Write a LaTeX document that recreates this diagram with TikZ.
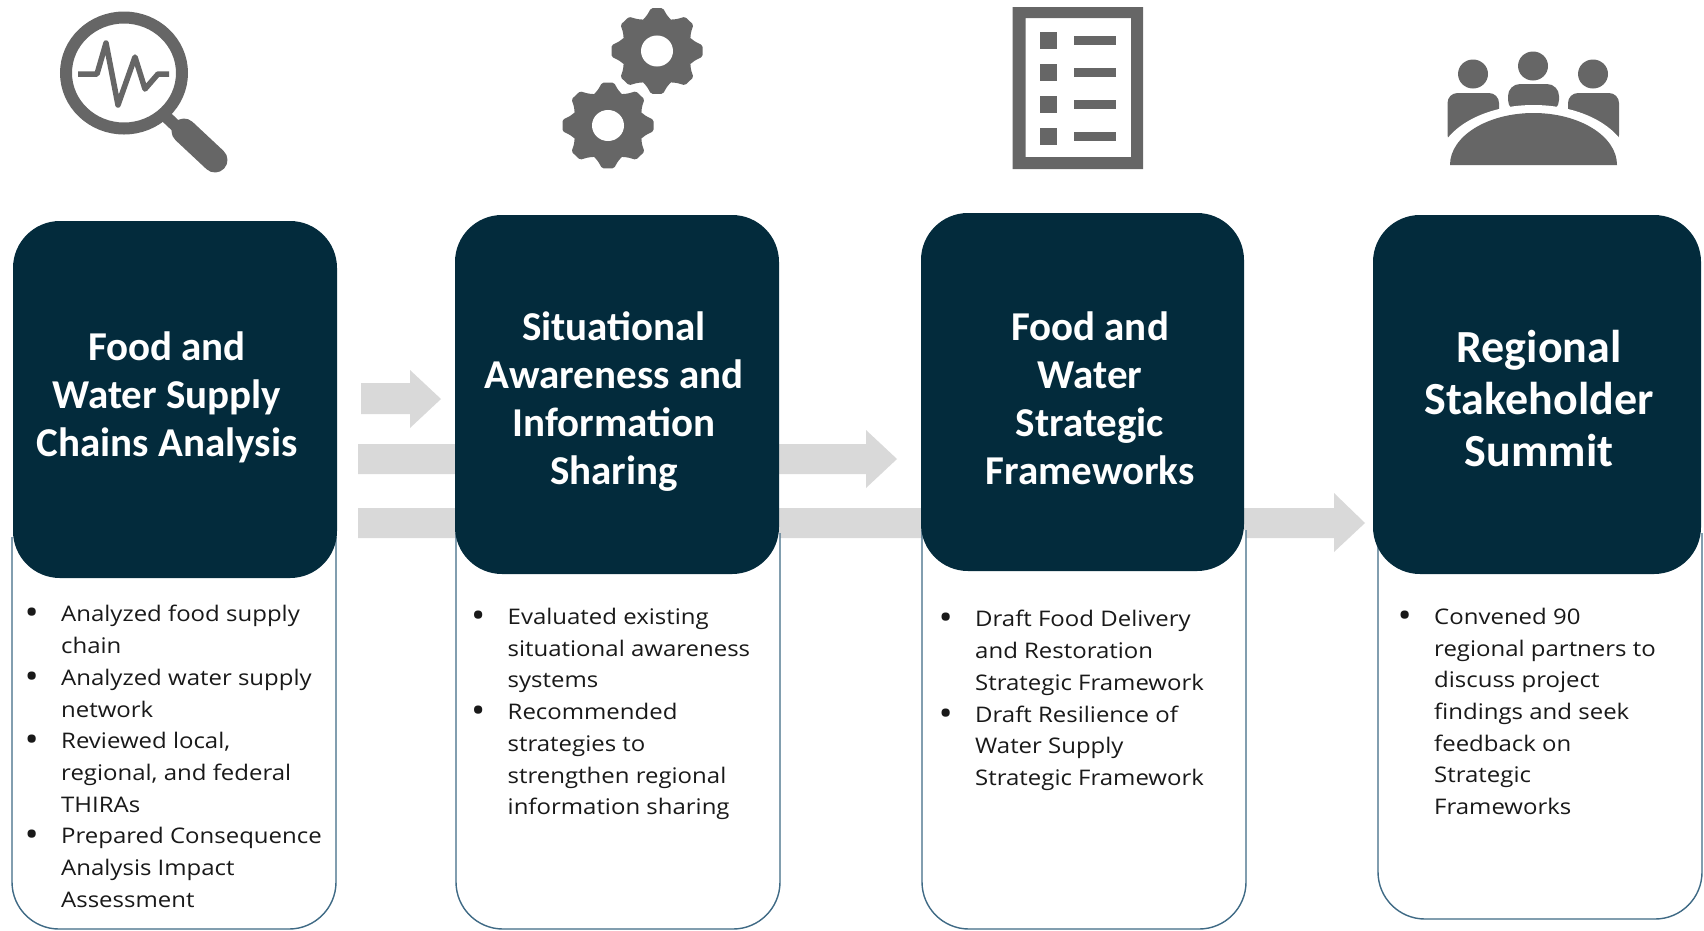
\documentclass[tikz,border=0pt]{standalone}
\usepackage{fontspec}
\setmainfont{Open Sans}[FakeStretch=1.115]
\newfontfamily\headfont{Carlito}[BoldFont=Carlito Bold]
\definecolor{dark}{HTML}{032B3C}
\definecolor{icon}{HTML}{666666}
\definecolor{arrowgray}{HTML}{D9D9D9}
\definecolor{edge}{HTML}{3F6A85}
\newcommand\bul{\llap{\makebox[0pt]{\raisebox{-3pt}{\fontsize{34}{34}\selectfont\textbullet}}\hspace{29.5pt}}}
\newcommand\gearicon[2]{%
  \begin{scope}[shift={(#1,#2)},yscale=0.94]
    \fill[icon] (0,0) circle[radius=35];
    \foreach \a in {0,45,...,315}{
      \fill[icon,rotate=\a,rounded corners=1.5pt] (32,-15) -- (38,-10) -- (45.5,-6) -- (45.5,6) -- (38,10) -- (32,15) -- cycle;
    }
    \fill[white] (0,0) ellipse[x radius=16,y radius=16.5];
  \end{scope}}
\tikzset{
  x=1pt,y=-1pt,
  darkbox/.style={fill=dark,draw=none,rounded corners=47pt,inner sep=0,minimum width=#1},
  outline/.style={fill=white,draw=edge,line width=1.4pt},
  heading/.style={font=\headfont\bfseries\fontsize{41}{48}\selectfont,text=white,align=center,inner sep=0},
  bigheading/.style={font=\headfont\bfseries\fontsize{46}{52}\selectfont,text=white,align=center,inner sep=0},
  bodytext/.style={font=\fontsize{21.5}{31.7}\selectfont,text=black!90,align=left,anchor=west,inner sep=0},
  flow/.style={fill=arrowgray,draw=none},
}
\begin{document}
\begin{tikzpicture}
\useasboundingbox (0,0) rectangle (1704,930);
% people
\fill[icon] (1473,74) ellipse[x radius=15,y radius=14.5];
\fill[icon] (1533,66) ellipse[x radius=15,y radius=14.5];
\fill[icon] (1593,74) ellipse[x radius=15,y radius=14.5];
\fill[icon,rounded corners=12pt] (1508,112) -- (1508,84) -- (1559,84) -- (1559,112) -- cycle;
\fill[icon,rounded corners=10pt] (1447.5,145) -- (1447.5,93) -- (1499,93) -- (1499,122) -- cycle;
\fill[icon,rounded corners=10pt] (1619,145) -- (1619,93) -- (1568,93) -- (1568,122) -- cycle;
\fill[white] (1533.5,165) ellipse[x radius=96,y radius=60];
\fill[icon] (1450,165) arc[start angle=180,end angle=0,x radius=83.5,y radius=-52] -- cycle;
% flow arrows
\fill[flow] (361,383) -- (410,383) -- (410,370) -- (441,399) -- (410,428) -- (410,414) -- (361,414) -- cycle;
\fill[flow] (358,444) -- (866,444) -- (866,430) -- (897,459) -- (866,488) -- (866,474) -- (358,474) -- cycle;
\fill[flow] (358,508) -- (1334,508) -- (1334,493) -- (1365,523) -- (1334,552) -- (1334,538) -- (358,538) -- cycle;
% lower outlined panels
\draw[outline] (12,537) -- (12,882) arc[start angle=180,end angle=90,radius=47] -- (289,929) arc[start angle=90,end angle=0,radius=47] -- (336,537);
\draw[outline] (456,533) -- (456,882) arc[start angle=180,end angle=90,radius=47] -- (733,929) arc[start angle=90,end angle=0,radius=47] -- (780,533);
\draw[outline] (922,530) -- (922,882) arc[start angle=180,end angle=90,radius=47] -- (1199,929) arc[start angle=90,end angle=0,radius=47] -- (1246,530);
\draw[outline] (1378,533) -- (1378,872) arc[start angle=180,end angle=90,radius=47] -- (1655,919) arc[start angle=90,end angle=0,radius=47] -- (1702,533);
% dark boxes
\node[darkbox=324pt,minimum height=357pt] (box1) at (175,399.5) {};
\node[darkbox=324pt,minimum height=359pt] (box2) at (617,394.5) {};
\node[darkbox=323pt,minimum height=358pt] (box3) at (1082.5,392) {};
\node[darkbox=328pt,minimum height=359pt] (box4) at (1537,394.5) {};
% headings
\node[heading] (h1) at (167,397) {Food and\\Water Supply\\Chains Analysis};
\node[heading] (h2) at (614,401.5) {Situational\\Awareness and\\Information\\Sharing};
\node[heading] (h3) at (1090,398) {Food and\\Water\\Strategic\\Frameworks};
\node[bigheading] (h4) at (1539,399) {Regional\\Stakeholder\\Summit};
% body text
\node[bodytext] (t1) at (61,756.5) {\bul Analyzed food supply\\chain\\\bul Analyzed water supply\\network\\\bul Reviewed local,\\regional, and federal\\THIRAs\\\bul Prepared Consequence\\Analysis Impact\\Assessment};
\node[bodytext] (t2) at (507.5,714) {\bul Evaluated existing\\situational awareness\\systems\\\bul Recommended\\strategies to\\strengthen regional\\information sharing};
\node[bodytext] (t3) at (975,700.5) {\bul Draft Food Delivery\\and Restoration\\Strategic Framework\\\bul Draft Resilience of\\Water Supply\\Strategic Framework};
\node[bodytext] (t4) at (1434,711.5) {\bul Convened 90\\regional partners to\\discuss project\\findings and seek\\feedback on\\Strategic\\Frameworks};
% magnifier icon
\draw[icon,line width=12pt] (124,73) ellipse[x radius=58,y radius=55.5];
\draw[icon,line width=12pt] (160,111) -- (178,128);
\draw[icon,line width=25pt,line cap=round] (184,131) -- (215,160);
\draw[icon,line width=5.5pt,line join=round] (78,74) -- (97,74) -- (106,43) -- (118,105) -- (135,57) -- (145,89) -- (158,74) -- (169,74);
% gears
\gearicon{657}{51}
\gearicon{608}{125.5}
% checklist
\fill[icon,even odd rule] (1012.5,7) rectangle (1143,169) (1025.5,18) rectangle (1131,157);
\foreach \y in {32,64,96,128}{
  \fill[icon] (1040,\y) rectangle (1057,\y+16.5);
  \fill[icon] (1074,\y+3.5) rectangle (1116,\y+12.5);
}
\end{tikzpicture}
\end{document}
